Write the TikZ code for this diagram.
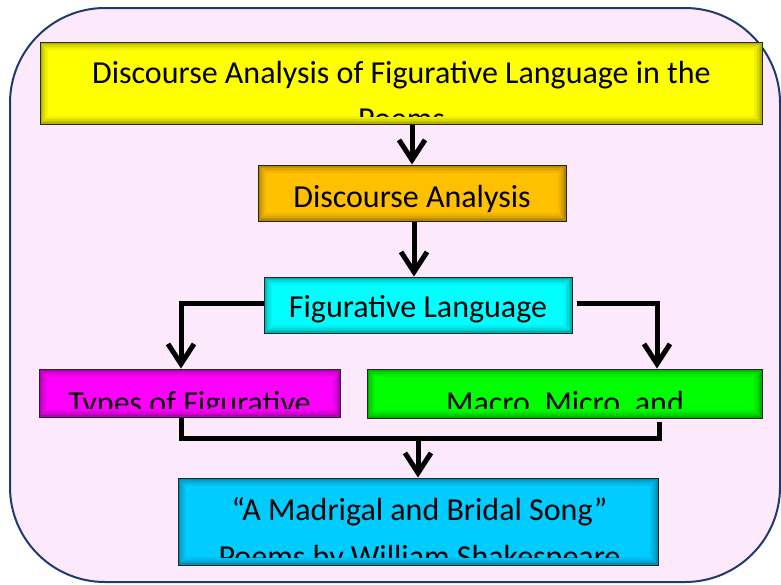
\documentclass[tikz,border=0pt]{standalone}
\usepackage{fontspec}
\setmainfont{Carlito}
\usetikzlibrary{arrows.meta,calc}
\definecolor{bgpink}{HTML}{FDE9FC}
\definecolor{navy}{HTML}{1F3A6E}
\definecolor{cyel}{HTML}{FFFF00}
\definecolor{corg}{HTML}{FFC000}
\definecolor{ccya}{HTML}{00FFFF}
\definecolor{cmag}{HTML}{FF00FF}
\definecolor{cgrn}{HTML}{00FF00}
\definecolor{cblu}{HTML}{00CCFF}
\tikzset{
  glowbox/.style={draw=black!85, line width=1pt, inner sep=0pt, rectangle,
    path picture={
      \foreach \i/\o in {1/0.30,2.5/0.22,4/0.15,5.5/0.09,7/0.05}{
        \draw[black, opacity=\o, line width=1.6pt]
          ([shift={(\i pt,-\i pt)}]path picture bounding box.north west) rectangle
          ([shift={(-\i pt,\i pt)}]path picture bounding box.south east);
      }
    }},
  txt/.style={inner sep=0pt, anchor=base, font=\fontsize{32}{47}\selectfont},
  conn/.style={line width=5pt, black, line join=miter},
  arr/.style={conn, -{Straight Barb[length=20pt,width=26pt,line join=miter]}},
}
\begin{document}
\begin{tikzpicture}[x=1pt,y=-1pt]
\useasboundingbox (0,0) rectangle (781,584);
\draw[navy, line width=2pt, fill=bgpink, rounded corners=95pt] (10,8) rectangle (780,582);

% boxes
\node[glowbox, fill=cyel, minimum width=722pt, minimum height=82pt] (Y) at (401,83) {};
\node[glowbox, fill=corg, minimum width=308pt, minimum height=56pt] (O) at (412,193) {};
\node[glowbox, fill=ccya, minimum width=308pt, minimum height=56pt] (C) at (418,305) {};
\node[glowbox, fill=cmag, minimum width=301pt, minimum height=48pt] (M) at (189.5,393) {};
\node[glowbox, fill=cgrn, minimum width=395pt, minimum height=49pt] (G) at (564.5,393.5) {};
\node[glowbox, fill=cblu, minimum width=480pt, minimum height=87pt] (B) at (418,521.5) {};

% texts (clipped like the reference)
\begin{scope}
\clip ([shift={(3pt,-3pt)}]Y.north west) rectangle ([shift={(-3pt,8.5pt)}]Y.south east);
\node[txt] (Yt1) at (401.5,83) {Discourse Analysis of Figurative Language in the};
\node[txt] (Yt2) at (401.5,129) {Poems};
\end{scope}
\node[txt] (Ot) at (412,207) {Discourse Analysis};
\node[txt] (Ct) at (418,317) {Figurative Language};
\begin{scope}
\clip ([shift={(3pt,-3pt)}]M.north west) rectangle ([shift={(-3pt,9.5pt)}]M.south east);
\node[txt] (Mt) at (189.5,413.5) {Types of Figurative};
\end{scope}
\begin{scope}
\clip ([shift={(3pt,-3pt)}]G.north west) rectangle ([shift={(-3pt,10pt)}]G.south east);
\node[txt] (Gt) at (565,413.5) {Macro, Micro, and};
\end{scope}
\begin{scope}
\clip ([shift={(3pt,-3pt)}]B.north west) rectangle ([shift={(-3pt,8pt)}]B.south east);
\node[txt] (Bt1) at (419.5,520) {“A Madrigal and Bridal Song”};
\node[txt] (Bt2) at (419.5,567) {Poems by William Shakespeare};
\end{scope}

% connectors
\draw[arr] (Y.south -| O.north) -- (O.north);
\draw[arr] ([xshift=2pt]O.south) -- ([xshift=-4pt]C.north);
\draw[arr] ([yshift=2pt]C.west) -| ([xshift=-8.5pt]M.north);
\draw[arr] ([xshift=4pt,yshift=2pt]C.east) -| ([xshift=92.5pt]G.north);
\coordinate (jr) at ([xshift=94.5pt,yshift=-20pt]G.south);
\coordinate (mid) at (B.north |- jr);
\draw[conn] ([xshift=-8.5pt]M.south) |- (jr) -- ([xshift=94.5pt,yshift=-3pt]G.south);
\draw[arr] ([yshift=2.5pt]mid) -- (B.north);
\end{tikzpicture}
\end{document}
